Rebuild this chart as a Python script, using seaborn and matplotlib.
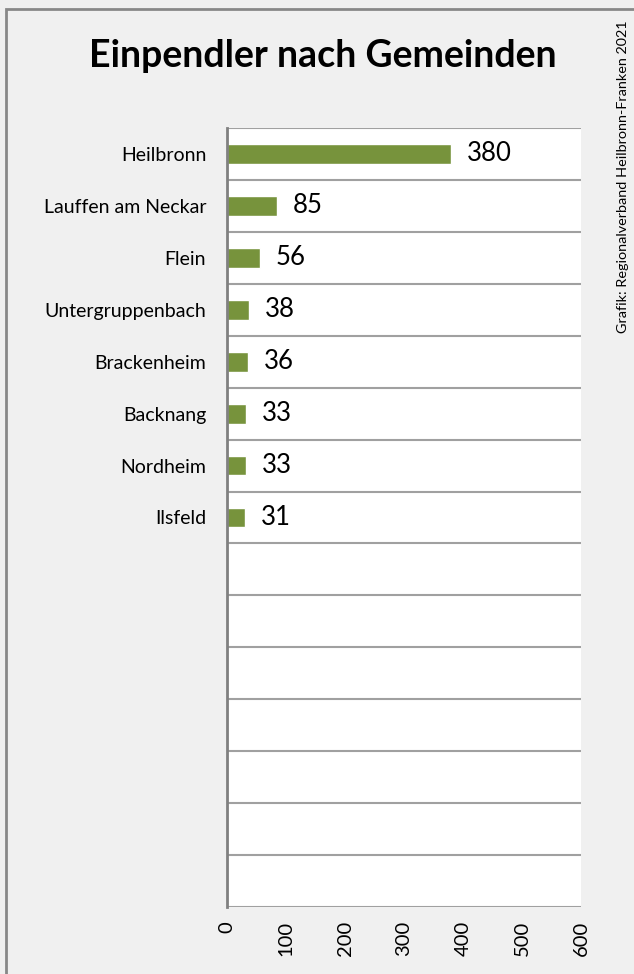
import matplotlib
matplotlib.use("Agg")
import matplotlib.pyplot as plt
import seaborn as sns
import pandas as pd
import numpy as np
from matplotlib.patches import Rectangle

# data
gemeinden = ["Heilbronn", "Lauffen am Neckar", "Flein", "Untergruppenbach",
             "Brackenheim", "Backnang", "Nordheim", "Ilsfeld"]
einpendler = [380, 85, 56, 38, 36, 33, 33, 31]
n_slots = 15  # category slots on the axis (rest are empty)
x_ticks = [0, 100, 200, 300, 400, 500, 600]

title = "Einpendler nach Gemeinden"
credit = "Grafik: Regionalverband Heilbronn-Franken 2021"

sns.set_theme(style="white")
plt.rcParams['font.family'] = ['Lato', 'DejaVu Sans']
plt.rcParams['text.color'] = 'black'
plt.rcParams['xtick.color'] = 'black'
plt.rcParams['ytick.color'] = 'black'

W, H = 634, 974
fig = plt.figure(figsize=(W / 100, H / 100), dpi=100, facecolor="#f0f0f0")
ax = fig.add_axes([227 / W, 1 - 907 / H, (581 - 227) / W, (907 - 128) / H])
ax.set_facecolor("white")

df = pd.DataFrame({"Gemeinde": gemeinden, "Einpendler": einpendler})
sns.barplot(data=df, y="Gemeinde", x="Einpendler", color="#77933c",
            saturation=1, width=0.38, ax=ax)

ax.set_ylim(n_slots - 0.5, -0.5)
ax.set_xlim(0, 600)
ax.set_xticks(x_ticks)
ax.set_xticklabels([str(t) for t in x_ticks], rotation=90, fontsize=14.5)
ax.set_yticks(np.arange(-0.5, n_slots), minor=True)
ax.grid(which="minor", axis="y", color="#a0a0a0", lw=1.5)
ax.tick_params(axis="y", which="major", length=0, pad=15, labelsize=14)
ax.tick_params(axis="y", which="minor", length=7, width=1.5, color="#a0a0a0",
               direction="out")
ax.tick_params(axis="x", length=0, pad=10)
ax.set_xlabel("")
ax.set_ylabel("")
for s in ["top", "right", "bottom"]:
    ax.spines[s].set_visible(False)
ax.spines["left"].set_color("#808080")
ax.spines["left"].set_linewidth(2)

ax.bar_label(ax.containers[0], padding=11, fontsize=18.5)

fig.text(323 / W, 1 - 67 / H, title, ha="center", va="baseline",
         fontsize=27, fontweight="bold")
fig.text(623 / W, 1 - 20 / H, credit, ha="center", va="top",
         rotation=90, fontsize=10.4)

fig.patches.append(Rectangle((6 / W, -0.05), 1.0, 1.05 - 9 / H,
                             transform=fig.transFigure, fill=False,
                             edgecolor="#888888", lw=2))

fig.savefig("out.png", dpi=100, facecolor=fig.get_facecolor())
